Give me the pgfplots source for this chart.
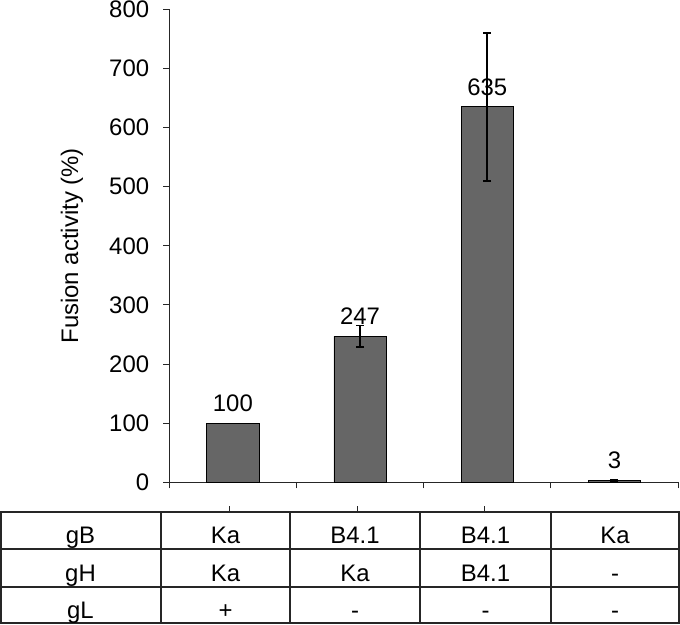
\documentclass[border=0pt]{standalone}
\usepackage{pgfplots}
\pgfplotsset{compat=1.18}
\usepackage{fontspec}
\setmainfont{Liberation Sans}

\definecolor{barfill}{HTML}{666666}
\definecolor{linegray}{HTML}{262626}

% bar heights, with the error of each bar
\pgfplotstableread{
x y
1 100
2 247
3 635
4 3
}\fusionbars
\pgfplotstableread{
x y err
2 247 18.5
3 635 125
4 3 1
}\fusionerr

\begin{document}
\begin{tikzpicture}[x=1bp, y=1bp, font=\fontsize{24}{28}\selectfont]
\useasboundingbox (0,0) rectangle (680,-625);
\begin{axis}[
    at={(169.3bp,-482.3bp)}, anchor=south west,
    scale only axis,
    width=508.7bp, height=473bp,
    xmin=0.5, xmax=4.5,
    ymin=0, ymax=800,
    axis lines*=left,
    xtick={0.5,1.5,2.5,3.5,4.5},
    xticklabels={},
    ytick={0,100,...,800},
    tick align=outside,
    major tick length=6bp,
    tick style={linegray, line width=0.9bp},
    axis line style={linegray, line width=1.2bp},
    /pgf/number format/assume math mode=true,
    yticklabel style={inner sep=0pt, xshift=-14bp},
    ylabel={Fusion activity (\%)},
    ylabel style={at={(axis description cs:-0.1913,0.5)}, anchor=center},
]
\addplot[ybar, bar width=0.41, fill=barfill, draw=black, line width=0.9bp,
    nodes near coords,
    nodes near coords style={anchor=south, inner sep=0pt, yshift=11bp, black}]
    table[x=x, y=y] {\fusionbars};
\addplot[draw=none, mark=none, forget plot,
    error bars/.cd, y dir=both, y explicit,
    error bar style={line width=1.5bp, black},
    error mark options={rotate=90, mark size=4bp, line width=1.5bp, black}]
    table[x=x, y=y, y error=err] {\fusionerr};
\end{axis}

% table under the chart
\begin{scope}[line width=2bp, draw=linegray]
\foreach \yy in {-512,-549,-587,-623}
    \draw (0,\yy) -- (680,\yy);
\foreach \xx in {1,161,290,420,551,679}
    \draw (\xx,-512) -- (\xx,-623);
\end{scope}
\foreach \xx in {229,357,484}
    \draw[linegray, line width=0.9bp] (\xx,-506) -- (\xx,-512);

\node[anchor=base] at (80.5,-543) {gB};
\node[anchor=base] at (80.5,-581) {gH};
\node[anchor=base] at (80.5,-618) {gL};

\node[anchor=base] at (225.5,-543) {Ka};
\node[anchor=base] at (355,-543) {B4.1};
\node[anchor=base] at (485.5,-543) {B4.1};
\node[anchor=base] at (615,-543) {Ka};

\node[anchor=base] at (225.5,-581) {Ka};
\node[anchor=base] at (355,-581) {Ka};
\node[anchor=base] at (485.5,-581) {B4.1};
\node[anchor=base] at (615,-581) {-};

\node[anchor=base] at (225.5,-618) {+};
\node[anchor=base] at (355,-618) {-};
\node[anchor=base] at (485.5,-618) {-};
\node[anchor=base] at (615,-618) {-};
\end{tikzpicture}
\end{document}
